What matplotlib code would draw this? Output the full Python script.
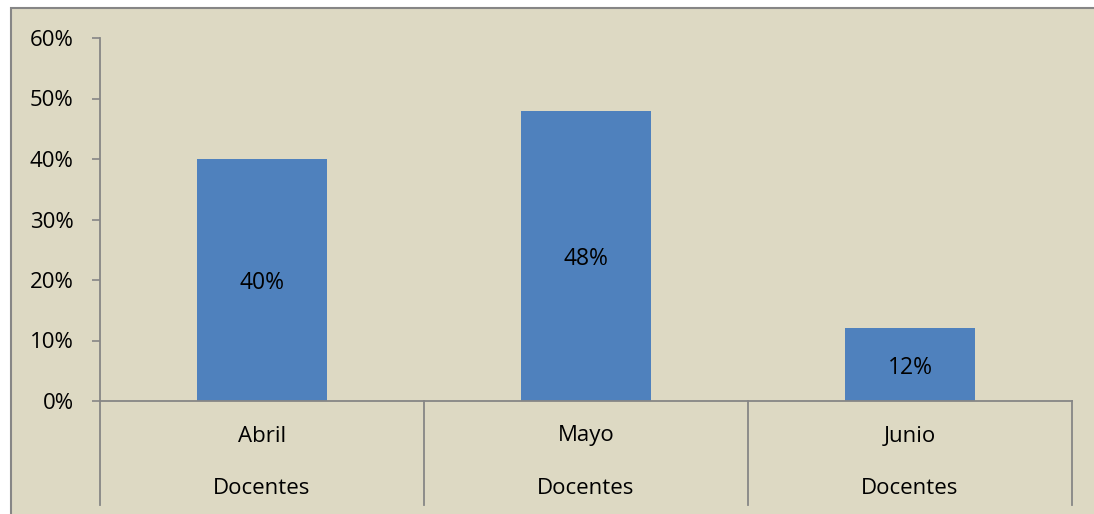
import matplotlib.pyplot as plt
from matplotlib.patches import Rectangle
from matplotlib.ticker import PercentFormatter
import matplotlib.transforms as mtransforms

meses = ["Abril", "Mayo", "Junio"]
grupo = "Docentes"
valores = [40, 48, 12]
ticks_y = [0, 10, 20, 30, 40, 50, 60]

W, H = 1094, 514
fondo = "#DDD9C3"
azul = "#4F81BD"
gris = "#868686"

plt.rcParams["font.family"] = ["Open Sans", "DejaVu Sans"]
plt.rcParams["font.size"] = 16

fig = plt.figure(figsize=(W / 100, H / 100), dpi=100, facecolor="white")
fig.patches.append(Rectangle((11 / W, -0.02), 1.1, (H - 8) / H + 0.02,
                             transform=fig.transFigure, facecolor=fondo,
                             edgecolor=gris, linewidth=1.5, zorder=-10))

ax = fig.add_axes([100 / W, 1 - 401 / H, (1072 - 100) / W, (401 - 38) / H])
ax.set_facecolor("none")

x = list(range(len(meses)))
ax.bar(x, valores, width=0.4, color=azul, zorder=2)
for xi, v in zip(x, valores):
    ax.text(xi, v / 2 - 0.5, f"{v}%", ha="center", va="center", fontsize=16.5, color="black")

ax.set_xlim(-0.5, len(meses) - 0.5)
ax.set_ylim(0, 60)
ax.set_yticks(ticks_y)
ax.yaxis.set_major_formatter(PercentFormatter(decimals=0))
ax.tick_params(axis="y", length=6, width=1.2, color=gris, pad=13, labelsize=16)
ax.set_xticks([])

for s in ["top", "right"]:
    ax.spines[s].set_visible(False)
for s in ["left", "bottom"]:
    ax.spines[s].set_color(gris)
    ax.spines[s].set_linewidth(1.3)

# segundo nivel del eje de categorias
bajo = -(505 - 401) / (401 - 38)
trans = mtransforms.blended_transform_factory(ax.transData, ax.transAxes)
for b in [-0.5 + i for i in range(len(meses) + 1)]:
    ax.plot([b, b], [0, bajo], transform=trans, color=gris, lw=1.3, clip_on=False)
for xi, m in zip(x, meses):
    ax.text(xi, -(436 - 401) / (401 - 38), m, transform=trans, ha="center", va="center", fontsize=16)
    ax.text(xi, -(488 - 401) / (401 - 38), grupo, transform=trans, ha="center", va="center", fontsize=16)

fig.savefig("out.png", dpi=100, facecolor="white")
